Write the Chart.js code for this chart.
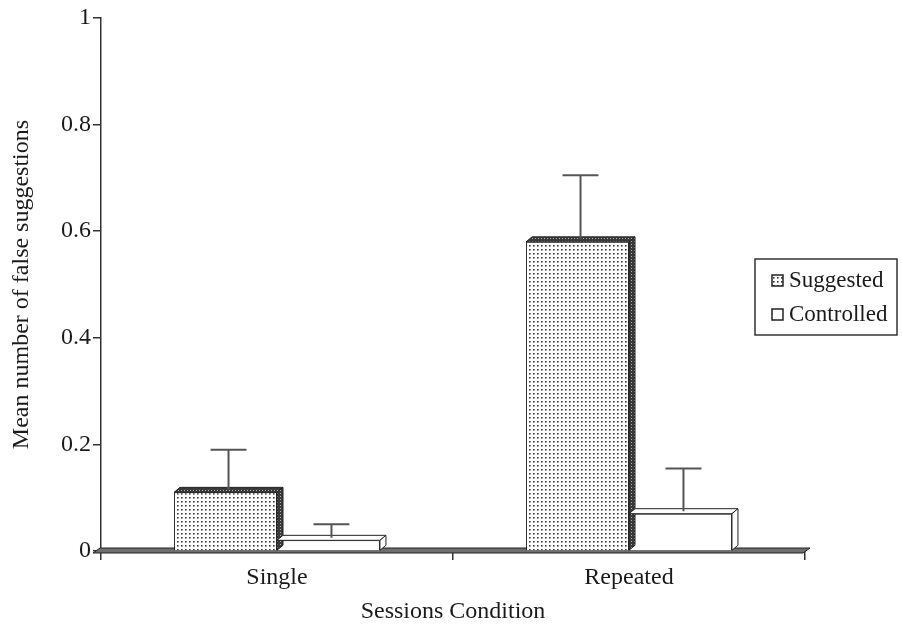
<!DOCTYPE html>
<html>
<head>
<meta charset="utf-8">
<script src="https://cdn.jsdelivr.net/npm/chart.js@4/dist/chart.umd.min.js"></script>
<style>
  html, body { margin: 0; padding: 0; background: #fff; }
</style>
</head>
<body>
<canvas id="chart" width="902" height="626"></canvas>
<script>
// ==================== data ====================
const categories = ['Single', 'Repeated']
const seriesLabels = ['Suggested', 'Controlled']
const suggested = [0.11, 0.58]
const controlled = [0.02, 0.07]
const suggestedErr = [0.08, 0.125]
const controlledErr = [0.03, 0.085]
const yTicks = [0, 0.2, 0.4, 0.6, 0.8, 1]

const FONT = '"Liberation Serif", "DejaVu Serif", serif'
const DX = 6, DY = 5

// dotted fill like the printed figure
function makePattern(bg, dot, size, dotSize) {
    const c = document.createElement('canvas')
    c.width = size; c.height = size
    const g = c.getContext('2d')
    g.fillStyle = bg
    g.fillRect(0, 0, size, size)
    g.fillStyle = dot
    g.fillRect(1, 1, dotSize, dotSize)
    return g.createPattern(c, 'repeat')
}
const dotFill = makePattern('#ffffff', '#3a3a3a', 4, 1.6)
const darkFill = makePattern('#3a3a3a', '#b0b0b0', 3, 1)

function poly(ctx, pts, fill) {
    ctx.beginPath()
    ctx.moveTo(pts[0][0], pts[0][1])
    pts.slice(1).forEach(p => ctx.lineTo(p[0], p[1]))
    ctx.closePath()
    ctx.fillStyle = fill
    ctx.fill()
    ctx.strokeStyle = '#222'
    ctx.lineWidth = 1
    ctx.stroke()
}

// ==================== 3D faces, floor, error bars ====================
const bar3d = {
    id: 'bar3d',
    beforeDatasetsDraw(chart) {
        const { ctx, chartArea, scales: { y } } = chart
        const base = y.getPixelForValue(0)
        ctx.save()
        poly(ctx, [
            [chartArea.left - 8, base + 2],
            [chartArea.left - 1, base - 3],
            [chartArea.right + 5, base - 3],
            [chartArea.right - 2, base + 2]
        ], '#6e6e6e')
        ctx.restore()
    },
    afterDatasetsDraw(chart) {
        const { ctx, scales: { y: yScale } } = chart
        ctx.save()
        chart.data.datasets.forEach((ds, i) => {
            const meta = chart.getDatasetMeta(i)
            meta.data.forEach(bar => {
                const { x, y, base, width } = bar.getProps(['x', 'y', 'base', 'width'], true)
                const l = x - width / 2, r = x + width / 2
                poly(ctx, [[l, y], [l + DX, y - DY], [r + DX, y - DY], [r, y]], ds.topFill)
                poly(ctx, [[r, y], [r + DX, y - DY], [r + DX, base - DY], [r, base]], ds.sideFill)
            })
        })
        // error bars (upper only)
        chart.data.datasets.forEach((ds, i) => {
            const meta = chart.getDatasetMeta(i)
            meta.data.forEach((bar, j) => {
                const { x, y } = bar.getProps(['x', 'y'], true)
                const cx = x + DX / 2
                const top = yScale.getPixelForValue(ds.data[j] + ds.errors[j])
                ctx.beginPath()
                ctx.moveTo(cx, y - DY / 2)
                ctx.lineTo(cx, top)
                ctx.moveTo(cx - 18, top)
                ctx.lineTo(cx + 18, top)
                ctx.strokeStyle = '#555'
                ctx.lineWidth = 2
                ctx.stroke()
            })
        })
        ctx.restore()
    },
    afterDraw(chart) {
        const { ctx } = chart
        ctx.save()
        ctx.fillStyle = '#fff'
        ctx.strokeStyle = '#333'
        ctx.lineWidth = 1.5
        ctx.fillRect(755, 259, 142, 76)
        ctx.strokeRect(755, 259, 142, 76)
        ctx.font = '23px ' + FONT
        ctx.textBaseline = 'middle'
        chart.data.datasets.forEach((ds, i) => {
            const cy = 280 + i * 34
            ctx.fillStyle = ds.backgroundColor
            ctx.fillRect(772, cy - 5, 11, 11)
            ctx.strokeStyle = '#222'
            ctx.lineWidth = 1.5
            ctx.strokeRect(772, cy - 5, 11, 11)
            ctx.fillStyle = '#1a1a1a'
            ctx.fillText(ds.label, 789, cy + 1)
        })
        ctx.restore()
    }
}

new Chart(document.getElementById('chart'), {
    type: 'bar',
    data: {
        labels: categories,
        datasets: [{
            label: seriesLabels[0],
            data: suggested,
            errors: suggestedErr,
            backgroundColor: dotFill,
            topFill: darkFill,
            sideFill: darkFill,
            borderColor: '#222',
            borderWidth: 1
        }, {
            label: seriesLabels[1],
            data: controlled,
            errors: controlledErr,
            backgroundColor: '#ffffff',
            topFill: '#ffffff',
            sideFill: '#ffffff',
            borderColor: '#222',
            borderWidth: 1
        }]
    },
    options: {
        responsive: false,
        animation: false,
        layout: { padding: { top: 18, right: 97, left: 0, bottom: 0 } },
        datasets: { bar: { barPercentage: 1, categoryPercentage: 0.585 } },
        plugins: {
            legend: { display: false },
            tooltip: { enabled: false }
        },
        scales: {
            x: {
                grid: { offset: true, drawOnChartArea: false, tickLength: 9, color: '#333', lineWidth: 1.5 },
                border: { color: '#333', width: 1.5 },
                ticks: { color: '#1a1a1a', padding: 3, font: { family: FONT, size: 24 } },
                title: {
                    display: true,
                    text: 'Sessions Condition',
                    color: '#1a1a1a',
                    padding: { top: 4, bottom: 0 },
                    font: { family: FONT, size: 24 }
                },
                afterFit: s => { s.height = 75 }
            },
            y: {
                min: 0,
                max: 1,
                afterBuildTicks: s => { s.ticks = yTicks.map(v => ({ value: v })) },
                grid: { drawOnChartArea: false, tickLength: 8, color: '#333', lineWidth: 1.5 },
                border: { color: '#333', width: 1.5 },
                ticks: { color: '#1a1a1a', padding: 2, font: { family: FONT, size: 24 }, callback: v => String(v) },
                title: {
                    display: true,
                    text: 'Mean number of false suggestions',
                    color: '#1a1a1a',
                    padding: { top: 7, bottom: 0 },
                    font: { family: FONT, size: 24 }
                },
                afterFit: s => { s.width = 101 }
            }
        }
    },
    plugins: [bar3d]
})
</script>
</body>
</html>
